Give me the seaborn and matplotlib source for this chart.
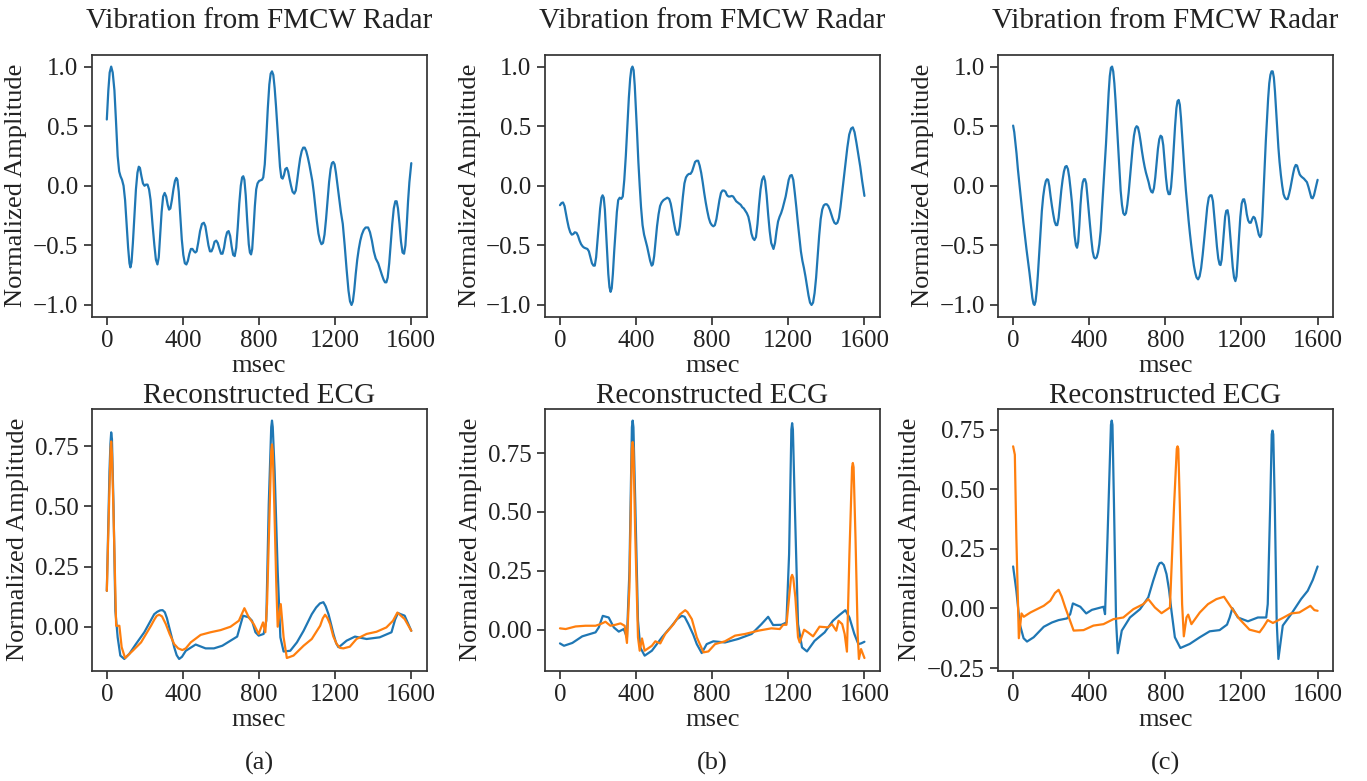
import numpy as np
import matplotlib
matplotlib.use("Agg")
import matplotlib.pyplot as plt
import seaborn as sns

# values: (msec, normalized amplitude)

# ---- radar vibration (top row) ----
rad_a = [(0, 0.556), (8, 0.80), (15, 0.95), (23, 1.0), (31, 0.95), (40, 0.80), (48, 0.55), (57, 0.25),
         (65, 0.12), (72, 0.08), (80, 0.05), (88, 0.0), (96, -0.12), (104, -0.32), (112, -0.52),
         (119, -0.65), (124, -0.685), (130, -0.64), (137, -0.48), (145, -0.25), (153, -0.03), (161, 0.11),
         (168, 0.16), (174, 0.15), (182, 0.08), (190, 0.02), (198, 0.0), (206, 0.01), (214, 0.01),
         (222, -0.03), (230, -0.12), (240, -0.32), (250, -0.50), (258, -0.62), (266, -0.66), (273, -0.60),
         (280, -0.42), (288, -0.22), (296, -0.09), (304, -0.06), (312, -0.09), (320, -0.16), (327, -0.20),
         (334, -0.19), (342, -0.12), (350, -0.03), (358, 0.04), (365, 0.066), (371, 0.05), (378, -0.05),
         (386, -0.25), (394, -0.45), (402, -0.58), (410, -0.65), (418, -0.66), (426, -0.63), (434, -0.57),
         (442, -0.53), (450, -0.53), (458, -0.55), (465, -0.56), (472, -0.55), (480, -0.48), (490, -0.38),
         (500, -0.32), (510, -0.31), (518, -0.34), (526, -0.42), (534, -0.50), (542, -0.55), (550, -0.55),
         (558, -0.52), (566, -0.47), (575, -0.46), (583, -0.48), (592, -0.53), (600, -0.57), (608, -0.57),
         (616, -0.52), (624, -0.44), (632, -0.39), (640, -0.38), (648, -0.42), (656, -0.51), (664, -0.58),
         (672, -0.59), (680, -0.52), (688, -0.35), (696, -0.15), (704, 0.0), (711, 0.07), (717, 0.08),
         (723, 0.05), (730, -0.08), (738, -0.30), (746, -0.49), (752, -0.56), (758, -0.576), (764, -0.53),
         (771, -0.36), (778, -0.17), (785, -0.03), (792, 0.02), (800, 0.04), (808, 0.046), (815, 0.05),
         (822, 0.07), (830, 0.18), (838, 0.40), (846, 0.65), (854, 0.85), (861, 0.94), (868, 0.96),
         (875, 0.93), (882, 0.82), (889, 0.67), (896, 0.50), (903, 0.32), (910, 0.16), (917, 0.07),
         (924, 0.06), (931, 0.09), (938, 0.14), (946, 0.15), (953, 0.12), (960, 0.06), (968, 0.0),
         (976, -0.05), (985, -0.066), (993, -0.04), (1000, 0.04), (1008, 0.14), (1016, 0.23), (1024, 0.29),
         (1032, 0.32), (1040, 0.32), (1048, 0.29), (1056, 0.24), (1064, 0.18), (1072, 0.11), (1080, 0.04),
         (1088, -0.06), (1096, -0.18), (1104, -0.30), (1112, -0.40), (1120, -0.46), (1128, -0.49),
         (1136, -0.48), (1144, -0.41), (1152, -0.28), (1160, -0.12), (1168, 0.03), (1176, 0.14),
         (1183, 0.19), (1190, 0.20), (1197, 0.18), (1204, 0.11), (1212, 0.01), (1220, -0.09), (1230, -0.22),
         (1240, -0.32), (1250, -0.50), (1260, -0.70), (1270, -0.88), (1278, -0.97), (1286, -1.0),
         (1293, -0.97), (1300, -0.88), (1308, -0.74), (1316, -0.62), (1324, -0.53), (1332, -0.46),
         (1340, -0.41), (1350, -0.37), (1360, -0.35), (1373, -0.35), (1383, -0.39), (1393, -0.46),
         (1403, -0.55), (1413, -0.61), (1426, -0.65), (1436, -0.70), (1446, -0.75), (1455, -0.79),
         (1462, -0.81), (1469, -0.81), (1476, -0.77), (1484, -0.65), (1492, -0.48), (1500, -0.32),
         (1508, -0.19), (1516, -0.13), (1523, -0.13), (1530, -0.19), (1538, -0.32), (1546, -0.47),
         (1554, -0.56), (1562, -0.57), (1569, -0.50), (1576, -0.33), (1583, -0.13), (1590, 0.03),
         (1600, 0.19)]

rad_b = [(0, -0.163), (8, -0.145), (16, -0.14), (24, -0.17), (31, -0.23), (38, -0.29), (46, -0.35),
         (54, -0.39), (62, -0.41), (70, -0.405), (78, -0.39), (87, -0.395), (95, -0.42), (103, -0.46),
         (111, -0.49), (120, -0.51), (128, -0.52), (136, -0.525), (144, -0.53), (152, -0.55), (160, -0.60),
         (168, -0.65), (176, -0.67), (183, -0.67), (190, -0.60), (197, -0.47), (204, -0.33), (211, -0.19),
         (218, -0.10), (224, -0.08), (230, -0.10), (236, -0.20), (242, -0.38), (248, -0.56), (254, -0.74),
         (260, -0.85), (266, -0.89), (272, -0.86), (278, -0.74), (285, -0.55), (292, -0.38), (299, -0.22),
         (306, -0.12), (314, -0.10), (322, -0.11), (330, -0.09), (338, 0.05), (346, 0.25), (354, 0.50),
         (362, 0.74), (369, 0.90), (375, 0.98), (381, 1.0), (387, 0.97), (393, 0.84), (399, 0.65),
         (405, 0.45), (412, 0.20), (419, 0.0), (426, -0.18), (434, -0.33), (442, -0.41), (450, -0.46),
         (458, -0.51), (466, -0.57), (474, -0.63), (482, -0.67), (488, -0.66), (495, -0.59), (502, -0.47),
         (510, -0.34), (518, -0.24), (526, -0.17), (534, -0.14), (544, -0.12), (554, -0.11), (564, -0.10),
         (574, -0.11), (582, -0.15), (590, -0.22), (598, -0.30), (606, -0.37), (614, -0.41), (622, -0.41),
         (630, -0.34), (638, -0.22), (646, -0.09), (654, 0.02), (662, 0.07), (670, 0.09), (678, 0.10),
         (686, 0.10), (694, 0.12), (702, 0.16), (710, 0.20), (718, 0.21), (726, 0.21), (734, 0.17),
         (742, 0.11), (750, 0.03), (758, -0.06), (766, -0.14), (774, -0.21), (782, -0.27), (790, -0.31),
         (798, -0.33), (806, -0.34), (814, -0.33), (822, -0.28), (830, -0.20), (838, -0.12), (846, -0.06),
         (854, -0.04), (862, -0.04), (870, -0.05), (878, -0.08), (886, -0.09), (894, -0.09), (902, -0.085),
         (910, -0.09), (918, -0.11), (926, -0.13), (934, -0.14), (942, -0.15), (950, -0.16), (958, -0.18),
         (966, -0.19), (974, -0.21), (982, -0.23), (990, -0.26), (998, -0.32), (1006, -0.40),
         (1014, -0.44), (1022, -0.455), (1030, -0.43), (1038, -0.32), (1046, -0.16), (1054, -0.03),
         (1062, 0.05), (1071, 0.08), (1078, 0.04), (1086, -0.08), (1094, -0.24), (1102, -0.38),
         (1110, -0.48), (1122, -0.53), (1130, -0.48), (1138, -0.38), (1146, -0.30), (1154, -0.26),
         (1162, -0.23), (1170, -0.19), (1178, -0.14), (1186, -0.09), (1194, -0.02), (1202, 0.05),
         (1210, 0.085), (1218, 0.09), (1226, 0.05), (1234, -0.06), (1242, -0.18), (1250, -0.31),
         (1258, -0.43), (1266, -0.55), (1274, -0.63), (1282, -0.69), (1290, -0.76), (1298, -0.84),
         (1306, -0.92), (1314, -0.98), (1322, -1.0), (1330, -0.98), (1338, -0.90), (1346, -0.77),
         (1354, -0.60), (1362, -0.42), (1370, -0.28), (1378, -0.20), (1386, -0.165), (1394, -0.155),
         (1402, -0.155), (1410, -0.17), (1418, -0.20), (1426, -0.24), (1434, -0.28), (1442, -0.31),
         (1450, -0.32), (1458, -0.31), (1466, -0.27), (1474, -0.18), (1482, -0.07), (1490, 0.04),
         (1500, 0.17), (1510, 0.32), (1520, 0.43), (1530, 0.48), (1539, 0.49), (1548, 0.45), (1558, 0.36),
         (1568, 0.26), (1578, 0.16), (1588, 0.04), (1600, -0.085)]

rad_c = [(0, 0.505), (6, 0.45), (12, 0.36), (18, 0.27), (25, 0.14), (32, 0.03), (38, -0.06), (46, -0.19),
         (54, -0.31), (62, -0.42), (70, -0.53), (78, -0.63), (86, -0.73), (94, -0.84), (101, -0.94),
         (107, -0.99), (112, -1.0), (118, -0.97), (124, -0.88), (130, -0.75), (137, -0.57), (144, -0.38),
         (151, -0.21), (158, -0.09), (165, -0.01), (172, 0.04), (178, 0.055), (184, 0.05), (190, 0.0),
         (197, -0.09), (204, -0.17), (211, -0.24), (218, -0.30), (225, -0.33), (232, -0.33), (239, -0.27),
         (246, -0.15), (253, -0.04), (260, 0.05), (267, 0.12), (274, 0.16), (281, 0.166), (288, 0.14),
         (295, 0.07), (302, -0.03), (309, -0.14), (316, -0.28), (323, -0.42), (330, -0.50), (336, -0.52),
         (342, -0.47), (348, -0.33), (354, -0.16), (360, -0.04), (366, 0.03), (372, 0.055), (378, 0.055),
         (384, 0.02), (390, -0.08), (397, -0.21), (404, -0.33), (411, -0.45), (418, -0.55), (425, -0.60),
         (432, -0.61), (439, -0.60), (446, -0.56), (453, -0.49), (460, -0.38), (467, -0.20), (474, -0.02),
         (481, 0.15), (488, 0.35), (495, 0.57), (502, 0.78), (508, 0.92), (514, 0.99), (520, 1.0),
         (526, 0.96), (532, 0.86), (538, 0.72), (544, 0.55), (551, 0.34), (558, 0.14), (565, -0.04),
         (572, -0.16), (579, -0.23), (586, -0.245), (593, -0.23), (600, -0.16), (607, -0.06), (614, 0.07),
         (621, 0.20), (628, 0.32), (635, 0.42), (642, 0.48), (649, 0.50), (656, 0.49), (663, 0.44),
         (670, 0.37), (677, 0.29), (684, 0.22), (691, 0.16), (698, 0.11), (705, 0.07), (712, 0.03),
         (719, -0.02), (726, -0.05), (733, -0.057), (740, -0.02), (747, 0.07), (754, 0.19), (761, 0.31),
         (768, 0.39), (775, 0.42), (782, 0.41), (789, 0.34), (796, 0.21), (803, 0.07), (810, -0.03),
         (817, -0.07), (824, -0.07), (830, -0.01), (837, 0.13), (844, 0.31), (851, 0.50), (858, 0.65),
         (864, 0.71), (870, 0.72), (876, 0.68), (882, 0.57), (888, 0.43), (894, 0.28), (901, 0.11),
         (908, -0.04), (915, -0.17), (922, -0.29), (929, -0.40), (936, -0.50), (943, -0.59), (950, -0.67),
         (957, -0.73), (964, -0.77), (972, -0.785), (980, -0.76), (988, -0.69), (996, -0.58), (1004, -0.45),
         (1012, -0.31), (1020, -0.18), (1028, -0.10), (1036, -0.08), (1043, -0.08), (1050, -0.13),
         (1057, -0.25), (1064, -0.38), (1071, -0.51), (1078, -0.61), (1085, -0.66), (1090, -0.665),
         (1096, -0.62), (1102, -0.50), (1108, -0.37), (1114, -0.26), (1120, -0.21), (1127, -0.205),
         (1133, -0.26), (1140, -0.40), (1147, -0.55), (1154, -0.68), (1161, -0.77), (1168, -0.80),
         (1174, -0.76), (1180, -0.62), (1187, -0.43), (1194, -0.26), (1201, -0.15), (1208, -0.115),
         (1214, -0.113), (1221, -0.16), (1228, -0.24), (1235, -0.29), (1242, -0.31), (1249, -0.31),
         (1256, -0.28), (1263, -0.26), (1270, -0.27), (1277, -0.31), (1284, -0.36), (1291, -0.41),
         (1298, -0.43), (1304, -0.41), (1310, -0.26), (1316, -0.04), (1322, 0.18), (1328, 0.38),
         (1334, 0.56), (1340, 0.73), (1346, 0.86), (1352, 0.93), (1358, 0.96), (1364, 0.96), (1370, 0.91),
         (1376, 0.79), (1382, 0.63), (1388, 0.46), (1394, 0.32), (1400, 0.20), (1407, 0.09), (1414, 0.0),
         (1421, -0.07), (1428, -0.10), (1436, -0.113), (1443, -0.11), (1450, -0.07), (1457, -0.02),
         (1464, 0.04), (1471, 0.10), (1478, 0.15), (1485, 0.175), (1492, 0.17), (1499, 0.13),
         (1506, 0.095), (1513, 0.08), (1520, 0.07), (1528, 0.06), (1536, 0.045), (1544, 0.03),
         (1552, -0.01), (1560, -0.06), (1567, -0.10), (1574, -0.105), (1581, -0.08), (1588, -0.03),
         (1594, 0.01), (1600, 0.05)]

# ---- reconstructed ECG (bottom row): reference (blue) and reconstructed (orange) ----
ecg_a_blue = [(0, 0.149), (14, 0.645), (19, 0.76), (23, 0.808), (27, 0.78), (35, 0.51), (45, 0.066),
              (57, -0.044), (71, -0.12), (92, -0.134), (118, -0.113), (153, -0.072), (197, -0.023),
              (249, 0.052), (265, 0.062), (280, 0.068), (293, 0.069), (305, 0.06), (316, 0.035), (328, -0.003),
              (340, -0.04), (354, -0.085), (367, -0.118), (380, -0.134), (395, -0.125), (415, -0.1),
              (467, -0.074), (519, -0.09), (563, -0.09), (607, -0.079), (650, -0.058), (685, -0.041),
              (716, 0.046), (746, 0.039), (763, 0.025), (781, -0.023), (798, -0.037), (824, -0.03),
              (838, 0.025), (851, 0.51), (864, 0.83), (868, 0.857), (872, 0.83), (882, 0.645), (898, 0.23),
              (912, -0.044), (929, -0.103), (964, -0.1), (999, -0.065), (1034, -0.017), (1077, 0.052),
              (1100, 0.08), (1120, 0.097), (1138, 0.102), (1150, 0.085), (1165, 0.052), (1178, 0.012),
              (1191, -0.03), (1205, -0.068), (1217, -0.085), (1230, -0.078), (1260, -0.058), (1304, -0.041),
              (1365, -0.051), (1434, -0.044), (1496, -0.023), (1515, 0.03), (1530, 0.057), (1545, 0.052),
              (1565, 0.046), (1585, 0.01), (1600, -0.017)]
ecg_a_orange = [(0, 0.149), (14, 0.576), (20, 0.74), (23, 0.77), (27, 0.72), (35, 0.48), (49, 0.004),
                (66, 0.004), (78, -0.085), (96, -0.13), (136, -0.1), (180, -0.065), (232, 0.004),
                (250, 0.03), (262, 0.045), (275, 0.05), (290, 0.043), (310, 0.011), (330, -0.03),
                (354, -0.072), (375, -0.09), (397, -0.097), (415, -0.09), (441, -0.065), (493, -0.034),
                (545, -0.023), (598, -0.014), (650, 0.0), (694, 0.025), (723, 0.077), (746, 0.039),
                (772, 0.011), (798, -0.03), (821, 0.018), (833, -0.023), (842, 0.094), (854, 0.44),
                (864, 0.73), (868, 0.758), (872, 0.73), (880, 0.507), (891, 0.163), (898, 0.0), (914, 0.094),
                (929, -0.044), (946, -0.13), (981, -0.12), (1034, -0.079), (1077, -0.051), (1121, 0.004),
                (1135, 0.035), (1147, 0.05), (1160, 0.035), (1173, 0.011), (1190, -0.04), (1208, -0.072),
                (1225, -0.088), (1243, -0.09), (1277, -0.083), (1312, -0.051), (1365, -0.03), (1417, -0.021),
                (1469, -0.003), (1504, 0.025), (1527, 0.059), (1565, 0.032), (1600, -0.017)]

ecg_b_blue = [(0, -0.058), (21, -0.068), (65, -0.056), (117, -0.028), (187, -0.011), (204, 0.01),
              (225, 0.059), (256, 0.052), (283, 0.01), (309, -0.008), (335, 0.003), (352, -0.032),
              (365, 0.25), (378, 0.86), (382, 0.888), (386, 0.86), (396, 0.53), (410, 0.038), (422, -0.075),
              (445, -0.11), (483, -0.089), (536, -0.032), (588, 0.017), (615, 0.045), (640, 0.059),
              (655, 0.055), (675, 0.024), (700, -0.02), (719, -0.061), (745, -0.099), (771, -0.061),
              (806, -0.049), (867, -0.054), (937, -0.039), (1007, -0.018), (1059, 0.024), (1094, 0.055),
              (1120, 0.02), (1164, 0.021), (1190, 0.031), (1204, 0.32), (1216, 0.85), (1220, 0.877),
              (1224, 0.85), (1234, 0.53), (1251, 0.024), (1272, -0.075), (1298, -0.092), (1338, -0.047),
              (1391, -0.011), (1434, 0.038), (1469, 0.063), (1500, 0.083), (1521, 0.052), (1547, -0.018),
              (1568, -0.061), (1582, -0.058), (1600, -0.051)]
ecg_b_orange = [(0, 0.006), (30, 0.003), (82, 0.014), (134, 0.017), (187, 0.017), (213, 0.024),
                (239, 0.034), (265, 0.017), (291, 0.021), (318, 0.027), (340, 0.017), (352, -0.056),
                (365, 0.18), (378, 0.77), (382, 0.797), (386, 0.77), (396, 0.39), (410, -0.032), (419, -0.089),
                (431, -0.037), (445, -0.089), (483, -0.068), (501, -0.049), (527, -0.058), (553, -0.018),
                (597, 0.024), (630, 0.065), (658, 0.083), (670, 0.075), (693, 0.045), (705, 0.01),
                (719, -0.032), (754, -0.096), (780, -0.092), (815, -0.061), (867, -0.049), (920, -0.025),
                (972, -0.018), (1042, -0.004), (1111, 0.006), (1155, 0.003), (1173, 0.021), (1190, 0.021),
                (1204, 0.137), (1214, 0.22), (1220, 0.233), (1226, 0.22), (1237, 0.137), (1251, -0.032),
                (1260, -0.054), (1283, 0.0), (1303, -0.011), (1330, -0.028), (1364, 0.013), (1408, 0.01),
                (1429, 0.024), (1452, -0.004), (1464, 0.038), (1483, 0.024), (1496, -0.018), (1508, -0.093),
                (1521, 0.32), (1535, 0.69), (1539, 0.708), (1543, 0.69), (1553, 0.39), (1565, -0.032),
                (1571, -0.124), (1582, -0.082), (1600, -0.12)]

ecg_c_blue = [(0, 0.176), (17, 0.074), (35, -0.066), (55, -0.125), (73, -0.139), (108, -0.121),
              (161, -0.077), (204, -0.059), (239, -0.049), (283, -0.042), (300, -0.024), (314, 0.021),
              (353, 0.007), (384, -0.021), (414, -0.006), (475, 0.007), (483, -0.024), (496, 0.297),
              (514, 0.77), (518, 0.788), (522, 0.77), (530, 0.436), (541, -0.052), (550, -0.188),
              (571, -0.093), (614, -0.038), (667, -0.003), (710, 0.046), (736, 0.116), (760, 0.175),
              (770, 0.19), (780, 0.192), (792, 0.182), (806, 0.144), (819, 0.08), (832, -0.01),
              (850, -0.121), (879, -0.166), (928, -0.149), (981, -0.121), (1033, -0.096), (1085, -0.091),
              (1124, -0.068), (1138, -0.038), (1152, 0.001), (1181, -0.038), (1234, -0.054), (1286, -0.038),
              (1330, -0.038), (1338, 0.018), (1351, 0.436), (1359, 0.73), (1363, 0.746), (1367, 0.73),
              (1375, 0.436), (1385, -0.052), (1394, -0.212), (1417, -0.072), (1461, -0.024), (1513, 0.039),
              (1548, 0.074), (1575, 0.12), (1600, 0.176)]
ecg_c_orange = [(0, 0.68), (9, 0.645), (17, 0.297), (30, -0.125), (44, -0.021), (56, -0.035),
                (91, -0.017), (126, -0.003), (161, 0.011), (195, 0.032), (220, 0.065), (239, 0.078),
                (255, 0.05), (274, 0.004), (318, -0.093), (370, -0.091), (422, -0.072), (475, -0.066),
                (527, -0.045), (579, -0.038), (632, -0.003), (684, 0.018), (710, 0.039), (745, 0.004),
                (780, -0.02), (824, 0.004), (846, 0.436), (860, 0.67), (864, 0.68), (868, 0.67), (876, 0.436),
                (888, 0.018), (897, -0.117), (911, -0.038), (920, -0.026), (937, -0.066), (981, -0.017),
                (1024, 0.018), (1068, 0.039), (1108, 0.049), (1146, 0.004), (1190, -0.045), (1242, -0.089),
                (1295, -0.1), (1316, -0.077), (1338, -0.049), (1365, -0.061), (1417, -0.04), (1461, -0.021),
                (1504, -0.017), (1562, 0.011), (1583, -0.007), (1600, -0.01)]

radar = [rad_a, rad_b, rad_c]
ecg = [(ecg_a_blue, ecg_a_orange), (ecg_b_blue, ecg_b_orange), (ecg_c_blue, ecg_c_orange)]
captions = ["(a)", "(b)", "(c)"]

sns.set_theme(style="ticks")
plt.rcParams['font.family'] = ['Liberation Serif', 'DejaVu Serif']
plt.rcParams['axes.edgecolor'] = '#333333'
plt.rcParams['xtick.color'] = '#333333'
plt.rcParams['ytick.color'] = '#333333'

fig, axes = plt.subplots(2, 3, figsize=(13.67, 7.81), dpi=100)
fig.subplots_adjust(left=0.067, right=0.975, top=0.93, bottom=0.141, wspace=0.353, hspace=0.35)

blue = '#1f77b4'
orange = '#ff7f0e'


def draw(ax, pts, color):
    arr = np.array(pts)
    sns.lineplot(x=arr[:, 0], y=arr[:, 1], ax=ax, color=color, linewidth=1.6, estimator=None)


for i in range(3):
    ax = axes[0, i]
    draw(ax, radar[i], blue)
    ax.set_title('Vibration from FMCW Radar', fontsize=21, pad=19, color='#222222')
    ax.set_yticks([-1.0, -0.5, 0.0, 0.5, 1.0])

    ax = axes[1, i]
    draw(ax, ecg[i][0], blue)
    draw(ax, ecg[i][1], orange)
    ax.set_title('Reconstructed ECG', fontsize=21, pad=4, color='#222222')

for ax in axes.flat:
    ax.set_xticks([0, 400, 800, 1200, 1600])
    ax.set_xlabel('msec', fontsize=19, labelpad=2, color='#222222')
    ax.set_ylabel('Normalized Amplitude', fontsize=19, labelpad=4, color='#222222')
    ax.tick_params(labelsize=18, labelcolor='#222222')

for i, ax in enumerate(axes[1]):
    pos = ax.get_position()
    fig.text((pos.x0 + pos.x1) / 2, 0.022, captions[i], ha='center', va='center', fontsize=19, color='#222222')

fig.savefig('out.png', dpi=100)
